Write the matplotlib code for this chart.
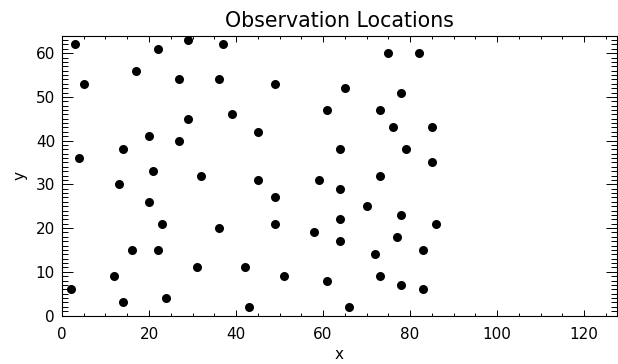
import matplotlib
matplotlib.use("Agg")
import matplotlib.pyplot as plt
from matplotlib.ticker import MultipleLocator

# observation locations
obs_x = [3, 5, 4, 2, 22, 29, 37, 17, 27, 36, 49, 29, 39, 20, 27, 14, 45, 21, 13, 32, 45, 59,
         75, 82, 65, 78, 61, 73, 76, 85, 64, 79, 85, 73, 64,
         20, 23, 36, 49, 49, 58, 16, 22, 31, 42, 12, 51, 14, 24, 43,
         70, 78, 64, 86, 64, 77, 72, 83, 61, 73, 78, 83, 66]
obs_y = [62, 53, 36, 6, 61, 63, 62, 56, 54, 54, 53, 45, 46, 41, 40, 38, 42, 33, 30, 32, 31, 31,
         60, 60, 52, 51, 47, 47, 43, 43, 38, 38, 35, 32, 29,
         26, 21, 20, 27, 21, 19, 15, 15, 11, 11, 9, 9, 3, 4, 2,
         25, 23, 22, 21, 17, 18, 14, 15, 8, 9, 7, 6, 2]

x_ticks = [0, 20, 40, 60, 80, 100, 120]
y_ticks = [0, 10, 20, 30, 40, 50, 60]

plt.rcParams['font.family'] = ['DejaVu Sans']

fig = plt.figure(figsize=(6.18, 3.64), dpi=100)
ax = fig.add_axes([0.1003, 0.1332, 0.8977, 0.7688])

ax.plot(obs_x, obs_y, 'o', color='black', markersize=6.5, markeredgewidth=0)

ax.set_xlim(0, 127.5)
ax.set_ylim(0, 64)
ax.set_xticks(x_ticks)
ax.set_yticks(y_ticks)
ax.xaxis.set_minor_locator(MultipleLocator(5))
ax.yaxis.set_minor_locator(MultipleLocator(1))

ax.tick_params(axis='x', which='major', direction='in', length=4, width=0.7,
               top=True, pad=8, labelsize=11)
ax.tick_params(axis='x', which='minor', direction='in', length=2, width=0.7, top=True)
ax.tick_params(axis='y', which='major', direction='in', length=8, width=0.7,
               right=True, pad=5, labelsize=11)
ax.tick_params(axis='y', which='minor', direction='in', length=4, width=0.7, right=True)
for s in ax.spines.values():
    s.set_linewidth(0.8)

ax.set_title("Observation Locations", fontsize=14.8, pad=6)
ax.set_xlabel("x", fontsize=11, labelpad=4)
ax.set_ylabel("y", fontsize=11, labelpad=6)

fig.savefig("out.png", dpi=100)
